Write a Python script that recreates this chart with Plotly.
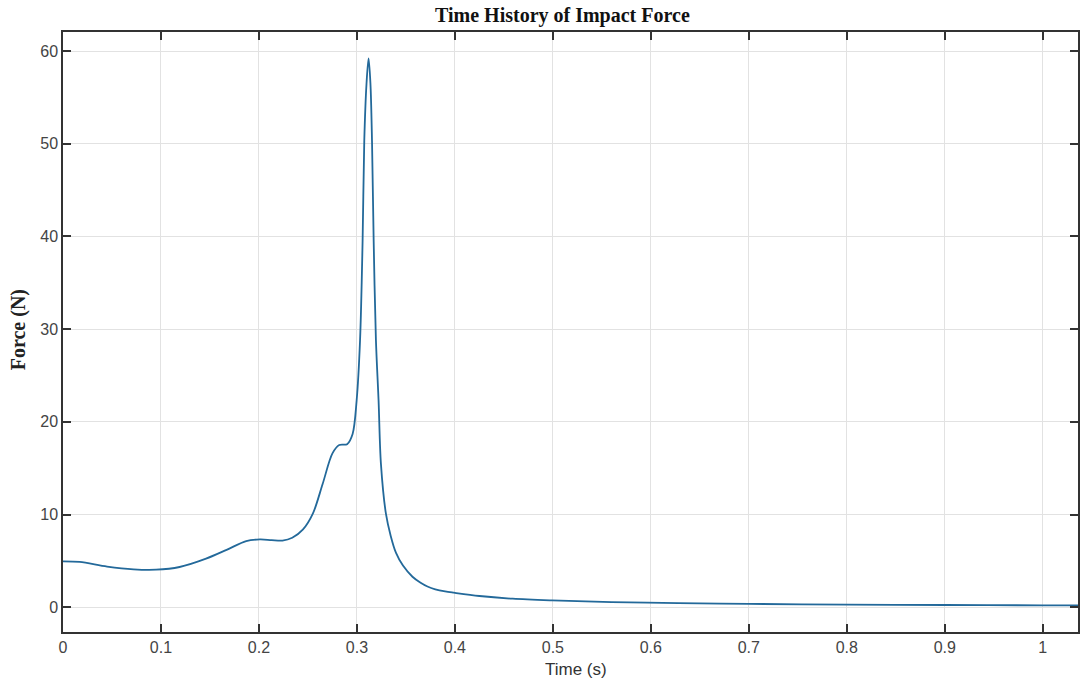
import plotly.graph_objects as go

time_s = [0.000, 0.017, 0.045, 0.072, 0.095, 0.119, 0.146, 0.167, 0.187, 0.201,
          0.213, 0.224, 0.234, 0.245, 0.255, 0.265, 0.275, 0.282, 0.290, 0.2956,
          0.2997, 0.3032, 0.3058, 0.3075, 0.3098, 0.3119, 0.3138, 0.3154, 0.3171, 0.3194,
          0.3221, 0.3245, 0.3296, 0.3345, 0.3398, 0.3470, 0.3567, 0.3650, 0.372, 0.380,
          0.390, 0.399, 0.425, 0.459, 0.499, 0.560, 0.628, 0.700, 0.800, 0.900, 1.000, 1.036]
force_n = [4.96, 4.90, 4.40, 4.10, 4.06, 4.35, 5.25, 6.20, 7.15, 7.33,
           7.25, 7.20, 7.50, 8.40, 10.1, 13.3, 16.6, 17.5, 17.6, 18.7,
           22.3, 28.8, 39.5, 50.3, 56.5, 59.2, 56.5, 50.3, 39.5, 28.8,
           22.3, 15.5, 10.1, 7.7, 5.9, 4.5, 3.3, 2.65, 2.25, 1.95,
           1.72, 1.58, 1.22, 0.93, 0.75, 0.57, 0.46, 0.37, 0.30, 0.25, 0.22, 0.21]

x_ticks = [0, 0.1, 0.2, 0.3, 0.4, 0.5, 0.6, 0.7, 0.8, 0.9, 1.0]
x_tick_text = ["0", "0.1", "0.2", "0.3", "0.4", "0.5", "0.6", "0.7", "0.8", "0.9", "1"]
y_ticks = [0, 10, 20, 30, 40, 50, 60]

fig = go.Figure()
fig.add_trace(go.Scatter(
    x=time_s, y=force_n, mode="lines",
    line=dict(color="#23699a", width=1.8, shape="spline", smoothing=0.9),
    showlegend=False,
))

axis_common = dict(
    showline=True, linecolor="#333333", linewidth=1.5, mirror="ticks",
    ticks="inside", ticklen=8, tickwidth=1.5, tickcolor="#333333",
    showgrid=True, gridcolor="#e2e2e2", gridwidth=1, zeroline=False,
    tickfont=dict(family="Liberation Sans, Arial, sans-serif", size=16, color="#444444"),
)

fig.update_layout(
    width=1080, height=684,
    margin=dict(l=63, r=0, t=32, b=52),
    paper_bgcolor="white", plot_bgcolor="white",
    xaxis=dict(range=[0, 1.036], tickvals=x_ticks, ticktext=x_tick_text, **axis_common),
    yaxis=dict(range=[-2.66, 62.05], tickvals=y_ticks, **axis_common),
    annotations=[
        dict(text="<b>Time History of Impact Force</b>", xref="paper", yref="paper",
             x=0.4926, y=1.028, xanchor="center", yanchor="middle", showarrow=False,
             font=dict(family="Liberation Serif, Times New Roman, serif", size=20, color="#111111")),
        dict(text="<b>Force (N)</b>", xref="paper", yref="paper",
             x=-0.0443, y=0.503, xanchor="center", yanchor="middle", showarrow=False, textangle=-90,
             font=dict(family="Liberation Serif, Times New Roman, serif", size=20, color="#222222")),
        dict(text="Time (s)", xref="paper", yref="paper",
             x=0.5054, y=-0.0633, xanchor="center", yanchor="middle", showarrow=False,
             font=dict(family="Liberation Sans, Arial, sans-serif", size=17, color="#333333")),
    ],
)

fig.write_html("out.html")
